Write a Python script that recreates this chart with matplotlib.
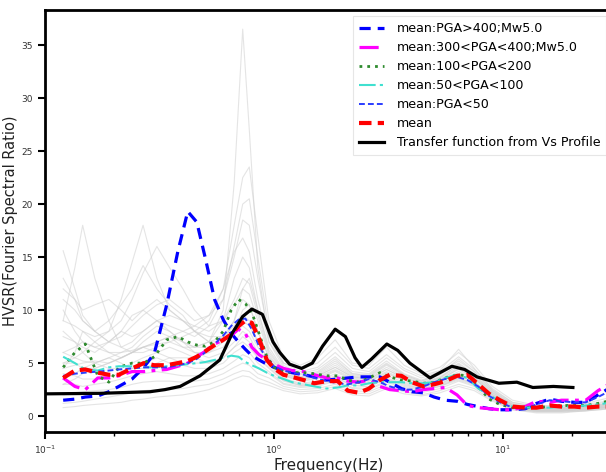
import numpy as np
import matplotlib
matplotlib.use("Agg")
import matplotlib.pyplot as plt

# ---------------- data ----------------
freq_mean = [0.12, 0.135, 0.15, 0.17, 0.19, 0.21, 0.24, 0.27, 0.3, 0.34, 0.38, 0.42, 0.46, 0.5,
             0.55, 0.6, 0.65, 0.7, 0.75, 0.8, 0.86, 0.93, 1.0, 1.1, 1.2, 1.35, 1.5, 1.7, 1.9,
             2.1, 2.35, 2.6, 2.9, 3.2, 3.6, 4.0, 4.5, 5.0, 5.6, 6.3, 7.0, 7.8, 8.7, 9.7, 11,
             12.5, 14, 16, 18, 20.5, 23, 26, 30]

mean_pga400 = [1.5, 1.6, 1.8, 1.9, 2.3, 2.8, 3.5, 4.6, 5.9, 10.5, 15.5, 19.3, 18.3, 15.0,
               11.0, 9.1, 7.8, 7.0, 6.3, 5.7, 5.3, 4.9, 4.6, 4.3, 4.1, 3.9, 3.7, 3.4, 3.5,
               3.6, 3.7, 3.7, 3.7, 3.2, 2.6, 2.3, 2.2, 1.8, 1.5, 1.4, 1.1, 0.9, 0.7, 0.6, 0.6,
               0.7, 1.2, 1.6, 1.4, 1.3, 1.3, 2.0, 2.8]
mean_pga300_400 = [3.6, 2.8, 2.5, 3.6, 3.6, 3.8, 4.2, 4.2, 4.3, 4.4, 4.7, 5.0, 5.6, 6.1,
                   6.8, 7.2, 7.6, 8.2, 7.8, 6.5, 5.8, 5.3, 4.9, 4.5, 4.3, 4.2, 3.9, 3.6, 3.6,
                   3.3, 3.2, 3.4, 2.8, 2.5, 2.4, 2.3, 2.5, 2.6, 2.7, 2.0, 1.0, 0.8, 0.7, 0.6,
                   0.6, 0.9, 1.4, 1.3, 1.5, 1.5, 1.5, 2.4, 3.2]
mean_pga100_200 = [4.6, 6.0, 6.8, 3.8, 3.2, 4.6, 5.0, 5.0, 5.6, 7.2, 7.5, 7.0, 6.7, 6.6,
                   7.0, 8.0, 10.0, 11.0, 10.6, 9.8, 7.8, 5.6, 4.6, 4.2, 4.1, 4.1, 4.0, 3.8,
                   3.8, 3.4, 3.2, 3.6, 4.1, 3.7, 3.4, 3.3, 3.1, 3.2, 3.6, 3.9, 3.8, 2.8, 1.6,
                   1.1, 0.8, 0.8, 0.8, 0.9, 1.0, 1.0, 1.0, 1.2, 1.5]
mean_pga50_100 = [5.6, 5.0, 4.4, 4.3, 4.6, 4.7, 4.7, 4.6, 4.6, 4.7, 4.8, 4.9, 5.0, 5.1,
                  5.3, 5.5, 5.7, 5.6, 5.1, 4.8, 4.5, 4.1, 3.8, 3.5, 3.2, 3.0, 2.8, 2.6, 2.7,
                  2.9, 2.9, 3.1, 3.2, 3.2, 3.2, 3.1, 3.1, 3.2, 3.6, 3.9, 3.6, 2.6, 2.0, 1.4,
                  0.9, 0.8, 0.8, 0.8, 0.9, 0.9, 1.0, 1.1, 1.3]
mean_pga50 = [3.8, 4.0, 4.1, 4.2, 4.3, 4.4, 4.5, 4.6, 4.6, 4.6, 4.8, 5.0, 5.4, 6.0,
              6.8, 7.6, 8.5, 9.1, 9.2, 8.2, 6.6, 5.4, 4.7, 4.3, 4.1, 3.9, 3.6, 3.3, 3.1,
              3.0, 3.2, 3.5, 3.2, 2.8, 2.5, 2.5, 2.8, 3.2, 3.5, 3.7, 3.4, 2.8, 1.9, 1.3,
              0.8, 0.7, 1.1, 1.5, 1.4, 1.3, 1.3, 1.8, 2.5]
mean_all = [3.6, 4.3, 4.4, 4.1, 3.9, 3.9, 4.5, 5.0, 4.8, 4.8, 5.0, 5.2, 5.6, 6.1,
            6.7, 7.2, 7.7, 8.5, 9.0, 8.8, 7.3, 5.3, 4.5, 3.9, 3.7, 3.4, 3.1, 3.3, 3.3,
            2.4, 2.2, 2.6, 3.4, 3.9, 3.8, 3.2, 2.8, 3.0, 3.3, 3.8, 3.9, 3.0, 2.1, 1.5,
            0.9, 0.8, 0.8, 1.0, 0.9, 0.9, 0.8, 0.9, 0.9]

freq_tf = [0.1, 0.174, 0.287, 0.334, 0.389, 0.475, 0.58, 0.66, 0.73, 0.80, 0.89, 0.99, 1.06,
           1.17, 1.32, 1.47, 1.63, 1.85, 2.05, 2.26, 2.42, 2.67, 3.11, 3.47, 3.92, 4.8,
           5.98, 6.8, 7.7, 9.6, 11.5, 13.5, 16.6, 20.2]
transfer_fn = [2.1, 2.15, 2.3, 2.5, 2.8, 3.8, 5.3, 7.9, 9.4, 10.1, 9.6, 7.0, 6.0,
               4.9, 4.5, 5.0, 6.6, 8.2, 7.5, 5.5, 4.6, 5.4, 6.8, 6.2, 5.0, 3.6,
               4.7, 4.4, 3.7, 3.1, 3.2, 2.7, 2.8, 2.7]

freq_grey = [0.12, 0.135, 0.146, 0.165, 0.19, 0.215, 0.24, 0.268, 0.308, 0.35, 0.4, 0.45,
             0.52, 0.6, 0.67, 0.73, 0.78, 0.85, 0.95, 1.1, 1.3, 1.55, 1.85, 2.2, 2.6, 3.1,
             3.7, 4.4, 5.3, 6.4, 7.5, 9, 11, 14, 18, 23, 30]

grey_records = [
    [6.0, 5.5, 5.2, 5.0, 5.5, 6.0, 6.2, 6.5, 7.0, 7.5, 7.0, 6.5, 7.0, 10.0, 22.0, 36.5, 27.0, 14.0,
     7.0, 5.0, 4.5, 5.0, 6.5, 4.8, 4.5, 5.8, 4.5, 3.8, 4.3, 6.3, 4.5, 2.5, 1.3, 0.9, 1.0, 1.2, 1.8],
    [4.5, 4.8, 5.0, 5.2, 5.0, 5.5, 6.0, 6.5, 6.8, 7.0, 7.5, 8.0, 9.0, 12.0, 18.0, 22.5, 23.5, 17.0,
     9.0, 5.5, 4.8, 5.5, 7.2, 5.0, 4.8, 6.5, 4.8, 4.0, 4.6, 6.0, 4.8, 2.8, 1.5, 1.0, 1.0, 1.1, 1.5],
    [8.0, 7.0, 6.5, 6.0, 7.0, 8.0, 7.5, 8.0, 9.0, 8.5, 8.0, 7.5, 8.5, 11.0, 16.0, 20.0, 20.5, 15.0,
     8.0, 5.0, 4.2, 4.6, 6.0, 4.5, 4.2, 5.5, 4.3, 3.6, 4.2, 5.6, 4.4, 2.6, 1.3, 0.9, 0.9, 1.0, 1.4],
    [15.6, 12.0, 9.5, 8.0, 7.0, 7.5, 8.5, 9.5, 10.5, 11.0, 10.0, 9.0, 9.5, 11.0, 15.0, 18.5, 18.0, 13.0,
     7.5, 4.8, 4.0, 4.4, 5.6, 4.2, 4.0, 5.2, 4.0, 3.4, 4.0, 5.2, 4.2, 2.4, 1.2, 0.8, 0.8, 0.9, 1.3],
    [3.0, 3.5, 4.0, 4.5, 5.0, 5.5, 6.0, 6.5, 7.0, 7.5, 8.0, 8.5, 9.5, 12.0, 15.5, 16.8, 15.5, 11.0,
     7.0, 4.6, 3.9, 4.2, 5.4, 4.0, 3.9, 5.0, 3.9, 3.3, 3.9, 5.0, 4.0, 2.3, 1.1, 0.8, 0.8, 0.9, 1.2],
    [9.0, 14.0, 18.0, 13.0, 9.0, 6.5, 6.0, 6.0, 6.5, 7.0, 6.5, 6.5, 7.0, 9.0, 13.0, 15.0, 14.0, 10.0,
     6.5, 4.4, 3.7, 4.0, 5.0, 3.9, 3.7, 4.8, 3.8, 3.2, 3.7, 4.8, 3.8, 2.2, 1.1, 0.7, 0.7, 0.9, 1.2],
    [5.0, 5.5, 6.0, 7.0, 8.0, 11.0, 14.5, 18.0, 13.0, 10.0, 9.0, 8.5, 8.0, 9.0, 11.0, 13.0, 12.5, 9.5,
     6.0, 4.2, 3.6, 3.9, 4.8, 3.8, 3.6, 4.6, 3.7, 3.1, 3.6, 4.6, 3.7, 2.1, 1.0, 0.7, 0.7, 0.8, 1.1],
    [9.0, 8.5, 8.0, 7.5, 8.0, 9.0, 11.0, 13.5, 16.0, 14.0, 12.0, 10.0, 8.5, 9.0, 10.5, 12.0, 11.5, 9.0,
     5.8, 4.0, 3.5, 3.8, 4.6, 3.7, 3.5, 4.4, 3.6, 3.0, 3.5, 4.4, 3.6, 2.0, 1.0, 0.7, 0.7, 0.8, 1.1],
    [11.0, 10.0, 9.0, 8.0, 9.0, 10.5, 12.0, 14.2, 12.0, 10.5, 9.5, 8.0, 7.0, 7.5, 9.0, 11.0, 10.5, 8.0,
     5.5, 3.9, 3.4, 3.7, 4.4, 3.6, 3.4, 4.2, 3.5, 2.9, 3.4, 4.2, 3.5, 2.0, 0.9, 0.6, 0.6, 0.8, 1.0],
    [12.0, 11.0, 10.0, 10.5, 11.0, 10.0, 9.0, 10.0, 11.0, 10.0, 9.0, 8.0, 7.5, 7.5, 8.5, 9.5, 9.0, 7.0,
     5.2, 3.8, 3.3, 3.5, 4.2, 3.4, 3.3, 4.0, 3.4, 2.9, 3.3, 4.0, 3.3, 1.9, 0.9, 0.6, 0.6, 0.7, 1.0],
    [10.0, 8.0, 7.0, 6.5, 7.0, 8.0, 9.5, 10.0, 9.0, 8.0, 7.0, 6.5, 6.5, 7.0, 8.0, 8.5, 8.0, 6.5,
     5.0, 3.6, 3.1, 3.3, 4.0, 3.2, 3.1, 3.8, 3.2, 2.8, 3.1, 3.8, 3.2, 1.8, 0.8, 0.5, 0.5, 0.7, 0.9],
    [6.0, 6.5, 7.0, 6.5, 6.0, 6.0, 6.5, 7.5, 8.5, 8.0, 7.0, 6.0, 5.5, 6.0, 7.0, 8.0, 7.5, 6.0,
     4.8, 3.5, 3.0, 3.2, 3.8, 3.1, 3.0, 3.6, 3.1, 2.7, 3.0, 3.6, 3.1, 1.8, 0.8, 0.5, 0.5, 0.7, 0.9],
    [5.0, 5.0, 4.5, 4.5, 5.0, 5.5, 6.0, 6.5, 6.0, 5.5, 5.0, 5.0, 5.0, 5.5, 6.5, 7.5, 7.0, 5.5,
     4.5, 3.3, 2.9, 3.0, 3.6, 2.9, 2.8, 3.5, 3.0, 2.6, 2.9, 3.5, 3.0, 1.7, 0.7, 0.5, 0.5, 0.6, 0.9],
    [4.0, 3.8, 3.5, 3.5, 3.8, 4.0, 4.5, 5.0, 5.5, 5.0, 4.8, 4.5, 4.5, 5.0, 6.0, 6.5, 6.0, 5.0,
     4.2, 3.1, 2.8, 2.9, 3.4, 2.7, 2.6, 3.3, 2.8, 2.5, 2.8, 3.4, 2.9, 1.7, 0.7, 0.5, 0.5, 0.6, 0.8],
    [3.0, 3.0, 2.8, 3.0, 3.2, 3.5, 3.8, 4.0, 4.2, 4.0, 3.8, 3.8, 4.0, 4.5, 5.2, 5.8, 5.5, 4.5,
     4.0, 3.0, 2.7, 2.8, 3.3, 2.6, 2.5, 3.2, 2.7, 2.4, 2.8, 3.6, 3.0, 1.8, 0.8, 0.5, 0.5, 0.6, 0.9],
    [2.0, 2.2, 2.3, 2.4, 2.5, 2.7, 3.0, 3.2, 3.3, 3.3, 3.2, 3.3, 3.5, 4.0, 4.6, 5.0, 4.8, 4.0,
     3.6, 2.8, 2.5, 2.6, 3.0, 2.4, 2.3, 3.0, 2.5, 2.2, 2.6, 3.3, 2.8, 1.6, 0.7, 0.4, 0.4, 0.5, 0.8],
    [1.2, 1.3, 1.4, 1.6, 1.8, 2.0, 2.2, 2.4, 2.5, 2.5, 2.6, 2.8, 3.0, 3.5, 4.0, 4.3, 4.2, 3.6,
     3.2, 2.6, 2.3, 2.4, 2.8, 2.2, 2.1, 2.8, 2.3, 2.0, 2.4, 3.0, 2.6, 1.5, 0.6, 0.4, 0.4, 0.5, 0.7],
    [0.8, 0.9, 1.0, 1.1, 1.2, 1.3, 1.5, 1.6, 1.8, 1.9, 2.0, 2.2, 2.5, 3.0, 3.5, 3.8, 3.7, 3.2,
     2.9, 2.4, 2.1, 2.2, 2.6, 2.0, 1.9, 2.6, 2.1, 1.9, 2.2, 2.8, 2.4, 1.4, 0.6, 0.3, 0.3, 0.5, 0.7],
    [7.5, 7.0, 6.0, 5.0, 4.5, 4.5, 5.0, 5.5, 6.0, 6.5, 6.0, 5.5, 5.0, 5.5, 6.5, 7.0, 6.5, 5.5,
     4.6, 3.4, 2.9, 3.1, 3.7, 2.9, 2.8, 3.5, 2.9, 2.6, 3.0, 3.9, 3.2, 1.8, 0.8, 0.5, 0.5, 0.6, 0.9],
    [13.0, 11.0, 9.0, 8.0, 7.0, 6.5, 7.0, 8.0, 9.0, 9.5, 9.0, 8.0, 7.0, 7.0, 8.0, 9.0, 8.5, 7.0,
     5.3, 3.9, 3.3, 3.6, 4.3, 3.5, 3.3, 4.1, 3.4, 2.9, 3.4, 4.5, 3.6, 2.0, 0.9, 0.6, 0.6, 0.8, 1.0],
    [4.5, 6.0, 8.0, 7.0, 6.0, 5.5, 6.0, 7.0, 8.0, 7.5, 6.5, 6.0, 6.0, 6.5, 8.0, 10.0, 10.5, 8.0,
     5.6, 4.1, 3.5, 3.8, 4.6, 3.7, 3.5, 4.4, 3.6, 3.1, 3.6, 4.9, 3.9, 2.2, 1.0, 0.7, 0.7, 0.8, 1.1],
    [3.5, 4.0, 4.5, 5.0, 5.5, 5.0, 4.5, 4.5, 5.0, 5.5, 5.5, 5.5, 6.0, 7.0, 9.0, 12.0, 13.0, 10.0,
     6.2, 4.3, 3.7, 4.1, 5.2, 4.0, 3.8, 4.9, 3.9, 3.3, 3.9, 5.4, 4.2, 2.4, 1.1, 0.7, 0.7, 0.9, 1.2],
]

legend_labels = ["mean:PGA>400;Mw5.0", "mean:300<PGA<400;Mw5.0", "mean:100<PGA<200",
                 "mean:50<PGA<100", "mean:PGA<50", "mean", "Transfer function from Vs Profile"]

# ---------------- figure ----------------
fig = plt.figure(figsize=(6.06, 4.72), dpi=100)
ax = fig.add_axes([0.0743, 0.0847, 0.936, 0.894])

for rec in grey_records:
    ax.plot(freq_grey, rec, color="#cfcfcf", lw=0.8, alpha=0.55, zorder=1)

ax.plot(freq_mean, mean_pga400, color="blue", ls=(0, (3.5, 2.2)), lw=2.3, label=legend_labels[0], zorder=3)
ax.plot(freq_mean, mean_pga300_400, color="magenta", ls=(0, (6, 2, 1.2, 2)), lw=2.3, label=legend_labels[1], zorder=3)
ax.plot(freq_mean, mean_pga100_200, color="#2e8b2e", ls=(0, (1, 1.8)), lw=2.0, label=legend_labels[2], zorder=3)
ax.plot(freq_mean, mean_pga50_100, color="turquoise", ls=(0, (8, 2, 1.5, 2)), lw=1.5, label=legend_labels[3], zorder=3)
ax.plot(freq_mean, mean_pga50, color="#2a3cff", ls=(0, (3, 1.6)), lw=1.4, label=legend_labels[4], zorder=3)
ax.plot(freq_mean, mean_all, color="red", ls=(0, (3, 1.5)), lw=3.0, label=legend_labels[5], zorder=4)
ax.plot(freq_tf, transfer_fn, color="black", ls="-", lw=2.3, label=legend_labels[6], zorder=5)

ax.set_xscale("log")
ax.set_xlim(0.1, 30)
ax.set_ylim(-1.5, 38.3)
ax.set_yticks([0, 5, 10, 15, 20, 25, 30, 35])

for s in ax.spines.values():
    s.set_linewidth(2.0)
    s.set_color("black")
ax.tick_params(axis="both", which="major", direction="out", length=5, width=1.5,
               labelsize=6.5, labelcolor="#333333")
ax.tick_params(axis="x", which="minor", direction="out", length=3, width=1.0)

ax.set_xlabel("Frequency(Hz)", fontsize=11, color="#222222", labelpad=1)
ax.set_ylabel("HVSR(Fourier Spectral Ratio)", fontsize=10.5, color="#222222", labelpad=3)

leg = ax.legend(loc="upper right", fontsize=9.1, frameon=True, fancybox=False,
                handlelength=2.0, handletextpad=1.0, borderpad=0.45, labelspacing=0.48)
leg.get_frame().set_edgecolor("#e0e0e0")
leg.get_frame().set_linewidth(0.8)

fig.savefig("out.png", dpi=100)
